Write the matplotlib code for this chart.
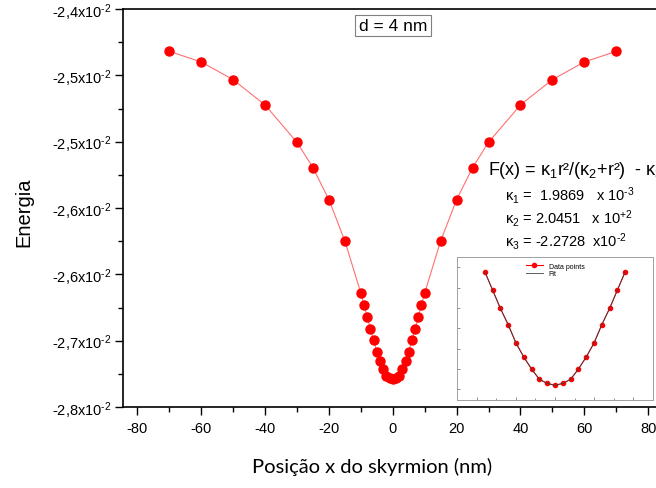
import numpy as np
import matplotlib
matplotlib.use("Agg")
import matplotlib.pyplot as plt
from matplotlib.ticker import MultipleLocator, FixedLocator, FixedFormatter

plt.rcParams["font.family"] = "Liberation Sans"
plt.rcParams["axes.unicode_minus"] = False
plt.rcParams["mathtext.fontset"] = "custom"
plt.rcParams["mathtext.rm"] = "Liberation Sans"
plt.rcParams["mathtext.it"] = "Liberation Sans"
plt.rcParams["mathtext.bf"] = "Liberation Sans:bold"

# main data: skyrmion position (nm) vs energy
posicao = [-70, -60, -50, -40, -30, -25, -20, -15, -10, -9, -8, -7, -6, -5, -4,
           -3, -2, -1, 0, 1, 2, 3, 4, 5, 6, 7, 8, 9, 10, 15, 20, 25, 30, 40,
           50, 60, 70]
half = [-0.024383, -0.024479, -0.024639, -0.024868, -0.025206, -0.025435,
        -0.025725, -0.026098, -0.026569, -0.026677, -0.026783, -0.026897,
        -0.026994, -0.027100, -0.027184, -0.027256, -0.027317, -0.027340]
energia = half + [-0.027347] + half[::-1]

# inset data
inset_x = [-90, -80, -70, -60, -50, -40, -30, -20, -10, 0, 10, 20, 30, 40,
           50, 60, 70, 80, 90]
inset_half = [-0.020485, -0.020846, -0.021207, -0.021528, -0.021889,
              -0.022164, -0.022400, -0.022603, -0.022682]
inset_y = inset_half + [-0.022721] + inset_half[::-1]

ytick_vals = [-0.0240, -0.0246, -0.0252, -0.0258, -0.0264, -0.0270, -0.0276]
ytick_labels = [r"%s$\mathregular{x10^{‐2}}$" % ("%.1f" % (v * 100)).replace(".", ",")
                for v in ytick_vals]

W, H = 656, 489
fig = plt.figure(figsize=(W / 100, H / 100), dpi=100)

# axes extends a bit past the right edge, like the original crop
ax = fig.add_axes([123 / W, 1 - 408 / H, (662.5 - 123) / W, 398 / H])
ax.plot(posicao, energia, color="#ff7070", lw=0.8, marker="o", ms=6.5,
        mfc="red", mec="red")
ax.set_xlim(-84.5, 84.5)
ax.set_ylim(-0.0276, -0.0240)
ax.xaxis.set_major_locator(MultipleLocator(20))
ax.xaxis.set_minor_locator(MultipleLocator(10))
ax.yaxis.set_major_locator(FixedLocator(ytick_vals))
ax.yaxis.set_major_formatter(FixedFormatter(ytick_labels))
ax.yaxis.set_minor_locator(FixedLocator([v - 0.0003 for v in ytick_vals[:-1]]))
ax.tick_params(which="major", direction="out", length=6, width=1,
               labelsize=10.5, pad=2)
ax.tick_params(axis="x", which="major", pad=4)
ax.tick_params(which="minor", direction="out", length=3.5, width=1)
for s in ax.spines.values():
    s.set_linewidth(1.2)

ax.set_xlabel("Posição x do skyrmion (nm)", family="Lato", fontsize=14.5)
ax.xaxis.set_label_coords((372 - 123) / (662.5 - 123), -(467 - 408) / 398)
ax.xaxis.label.set_va("center")
ax.set_ylabel("Energia", fontsize=14.5)
ax.yaxis.set_label_coords(-(123 - 24) / (662.5 - 123), (408 - 212) / 398)
ax.yaxis.label.set_va("center")

fig.text(393 / W, 1 - 26.5 / H, "d = 4 nm", ha="center", va="center",
         fontsize=12.5,
         bbox=dict(boxstyle="square,pad=0.2", fc="white", ec="#808080", lw=0.8))

fig.text(488 / W, 1 - 175 / H,
         r"F(x) = $\kappa_1$r²/($\kappa_2$+r²)  - $\kappa_3$",
         fontsize=13, va="baseline")
fig.text(505 / W, 1 - 201 / H, r"$\kappa_1$ =  1.9869   x 10$^{‐3}$",
         fontsize=10.5, va="baseline")
fig.text(505 / W, 1 - 224 / H, r"$\kappa_2$ = 2.0451   x 10$^{+2}$",
         fontsize=10.5, va="baseline")
fig.text(505 / W, 1 - 247 / H, r"$\kappa_3$ = -2.2728  x10$^{‐2}$",
         fontsize=10.5, va="baseline")

# inset
ins = fig.add_axes([457 / W, 1 - 400.7 / H, (653 - 457) / W, (400.7 - 258) / H])
ins.plot(inset_x, inset_y, color="red", lw=0.8, marker="o", ms=3,
         label="Data points")
ins.plot(inset_x, inset_y, color="#404040", lw=0.6, label="Fit")
ins.set_xlim(-125.6, 125.6)
ins.set_ylim(-0.023003, -0.020197)
ins.xaxis.set_major_locator(MultipleLocator(50))
ins.xaxis.set_minor_locator(MultipleLocator(25))
ins.yaxis.set_major_locator(MultipleLocator(0.0004))
ins.tick_params(which="both", direction="in", labelleft=False,
                labelbottom=False, color="#808080", width=0.6)
ins.tick_params(which="major", length=2.5)
ins.tick_params(which="minor", length=1.5)
for s in ins.spines.values():
    s.set_color("#a0a0a0")
    s.set_linewidth(0.7)
ins.legend(loc="upper center", fontsize=5, frameon=False, handlelength=2.5,
           borderpad=0.3, labelspacing=0.1)

fig.savefig("out.png", dpi=100)
